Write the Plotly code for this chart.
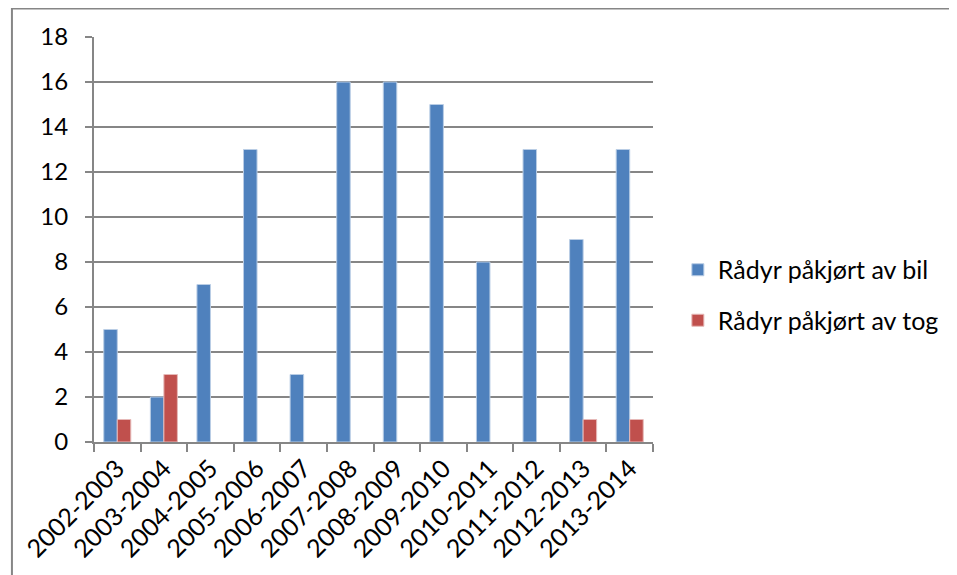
import plotly.graph_objects as go

categories = ["2002-2003", "2003-2004", "2004-2005", "2005-2006", "2006-2007", "2007-2008",
              "2008-2009", "2009-2010", "2010-2011", "2011-2012", "2012-2013", "2013-2014"]
bil = [5, 2, 7, 13, 3, 16, 16, 15, 8, 13, 9, 13]
tog = [1, 3, 0, 0, 0, 0, 0, 0, 0, 0, 1, 1]
series_names = ["Rådyr påkjørt av bil", "Rådyr påkjørt av tog"]
y_ticks = [0, 2, 4, 6, 8, 10, 12, 14, 16, 18]

FONT = "Lato, 'Open Sans', sans-serif"
GRID = "#868686"

W, H = 949, 567
L, R, T, B = 83, 304, 29, 133
pw, ph = W - L - R, H - T - B

def px_to_paper_x(px):
    return (px - L) / pw

def px_to_paper_y(py):
    return (H - B - py) / ph

fig = go.Figure()
fig.add_trace(go.Bar(x=categories, y=bil, name=series_names[0], legendgroup="a",
                     marker=dict(color="#4F81BD",
                                 line=dict(color="#B9CDE5", width=[1 if v else 0 for v in bil]))))
fig.add_trace(go.Bar(x=categories, y=tog, name=series_names[1], legendgroup="b",
                     marker=dict(color="#C0504D",
                                 line=dict(color="#E6B9B8", width=[1 if v else 0 for v in tog]))))

fig.update_layout(
    width=W, height=H,
    margin=dict(l=L, r=R, t=T, b=B),
    paper_bgcolor="white", plot_bgcolor="white",
    barmode="group", bargap=0.42, bargroupgap=0,
    font=dict(family=FONT, size=25, color="black"),
    legend=dict(x=px_to_paper_x(670), xanchor="left", y=0.363, yanchor="middle",
                font=dict(size=25, family=FONT), tracegroupgap=15,
                itemwidth=30, bgcolor="rgba(0,0,0,0)"),
    xaxis=dict(showline=True, linecolor=GRID, linewidth=2,
               ticks="outside", ticklen=8, tickcolor=GRID, tickwidth=2,
               tickson="boundaries", tickangle=-45, showgrid=False,
               tickfont=dict(size=25, family=FONT)),
    yaxis=dict(range=[0, 18], tickvals=y_ticks, showline=True, linecolor=GRID, linewidth=2,
               ticks="outside", ticklen=7, tickcolor=GRID, tickwidth=2,
               ticklabelstandoff=12,
               showgrid=True, gridcolor=GRID, gridwidth=1.5, zeroline=False,
               tickfont=dict(size=24, family=FONT)),
    shapes=[
        dict(type="line", xref="paper", yref="paper",
             x0=px_to_paper_x(0), x1=px_to_paper_x(W + 20), y0=px_to_paper_y(0.5), y1=px_to_paper_y(0.5),
             line=dict(color=GRID, width=2)),
        dict(type="line", xref="paper", yref="paper",
             x0=px_to_paper_x(0.5), x1=px_to_paper_x(0.5), y0=px_to_paper_y(0), y1=px_to_paper_y(H + 20),
             line=dict(color=GRID, width=2)),
    ],
)

fig.write_html("out.html")
